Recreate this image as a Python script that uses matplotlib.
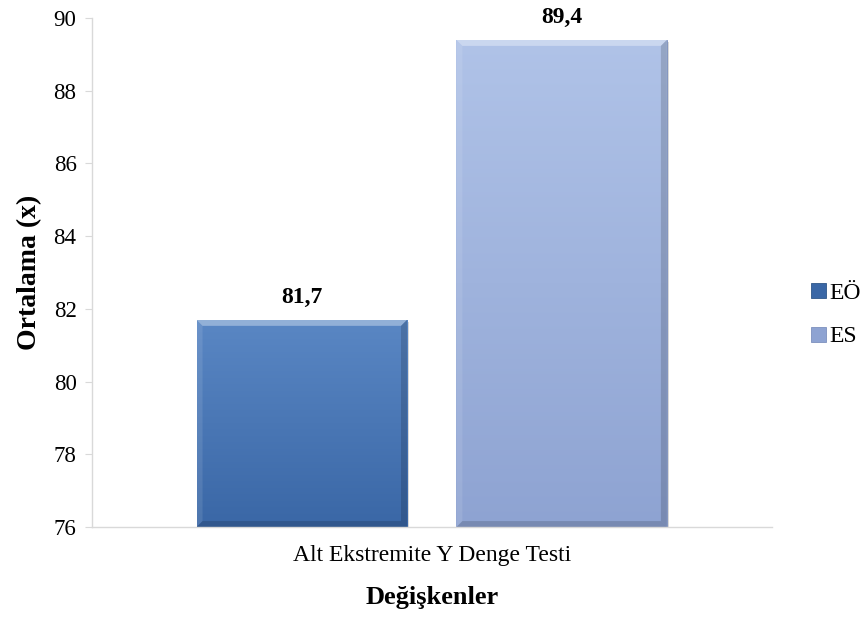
import numpy as np
import matplotlib.pyplot as plt
from matplotlib.patches import Patch, Polygon, Rectangle
from matplotlib.colors import LinearSegmentedColormap

plt.rcParams["font.family"] = ["Liberation Serif", "DejaVu Serif"]

category = "Alt Ekstremite Y Denge Testi"
groups = ["EÖ", "ES"]
means = [81.7, 89.4]
labels = ["81,7", "89,4"]

top_colors = ["#5a87c4", "#b0c3e8"]
bottom_colors = ["#3a67a6", "#8ea3d2"]
edge_colors = ["#2f5689", "#7d90bd"]

fig = plt.figure(figsize=(8.66, 6.23), dpi=100)
ax = fig.add_axes([0.106, 0.154, 0.785, 0.817])

width = 0.81
xs = [-0.5, 0.5]
ymin, ymax = 76, 90
ax.set_xlim(-1.308, 1.308)
ax.set_ylim(ymin, ymax)

# bevel size in data units (about 6 px each way)
bx = 6 * 2.616 / 680
by = 6 * (ymax - ymin) / 509

for x, val, lab, c_top, c_bot, c_edge in zip(xs, means, labels, top_colors,
                                             bottom_colors, edge_colors):
    x0, x1 = x - width / 2, x + width / 2
    # soft drop shadow
    ax.add_patch(Rectangle((x0 + bx * 0.4, ymin), width, val - ymin - by * 0.3,
                           facecolor="#000000", alpha=0.15, lw=0, zorder=1.5))
    bar = ax.bar(x, val - ymin, width, bottom=ymin, color=c_bot,
                 edgecolor=c_edge, linewidth=0.6, zorder=2)[0]
    cmap = LinearSegmentedColormap.from_list("g", [c_bot, c_top])
    grad = np.linspace(0, 1, 256).reshape(-1, 1)
    img = ax.imshow(grad, cmap=cmap, aspect="auto", origin="lower",
                    extent=[x0, x1, ymin, val], zorder=2.5)
    img.set_clip_path(bar)
    # bevel faces: light top, light left, dark right, dark bottom
    faces = [
        ([(x0, val), (x1, val), (x1 - bx, val - by), (x0 + bx, val - by)], "white", 0.35),
        ([(x0, val), (x0 + bx, val - by), (x0 + bx, ymin + by), (x0, ymin)], "white", 0.10),
        ([(x1, val), (x1 - bx, val - by), (x1 - bx, ymin + by), (x1, ymin)], "black", 0.15),
        ([(x0, ymin), (x0 + bx, ymin + by), (x1 - bx, ymin + by), (x1, ymin)], "black", 0.15),
    ]
    for pts, col, a in faces:
        ax.add_patch(Polygon(pts, closed=True, facecolor=col, alpha=a, lw=0, zorder=3))
    ax.text(x, val + 0.33, lab, ha="center", va="bottom", fontsize=17,
            fontweight="bold")

ax.set_yticks(np.arange(76, 91, 2))
ax.set_xticks([0])
ax.set_xticklabels([category])
ax.tick_params(axis="y", labelsize=16.5, length=5, color="#d9d9d9", pad=6)
ax.tick_params(axis="x", labelsize=17, length=0, pad=13)

for side in ["top", "right"]:
    ax.spines[side].set_visible(False)
for side in ["left", "bottom"]:
    ax.spines[side].set_color("#d9d9d9")
    ax.spines[side].set_linewidth(1)
    ax.spines[side].set_zorder(4)

ax.set_ylabel("Ortalama (x)", fontsize=20, fontweight="bold", labelpad=8)
ax.set_xlabel("Değişkenler", fontsize=19, fontweight="bold", labelpad=14)

handles = [Patch(facecolor=c, edgecolor=e, linewidth=0.6)
           for c, e in zip(bottom_colors, edge_colors)]
fig.legend(handles, groups, loc="center left", bbox_to_anchor=(0.937, 0.494),
           frameon=False, fontsize=17, handlelength=0.6, handleheight=0.6,
           handletextpad=0.15, labelspacing=0.95, borderpad=0,
           borderaxespad=0)

fig.savefig("out.png", dpi=100)
